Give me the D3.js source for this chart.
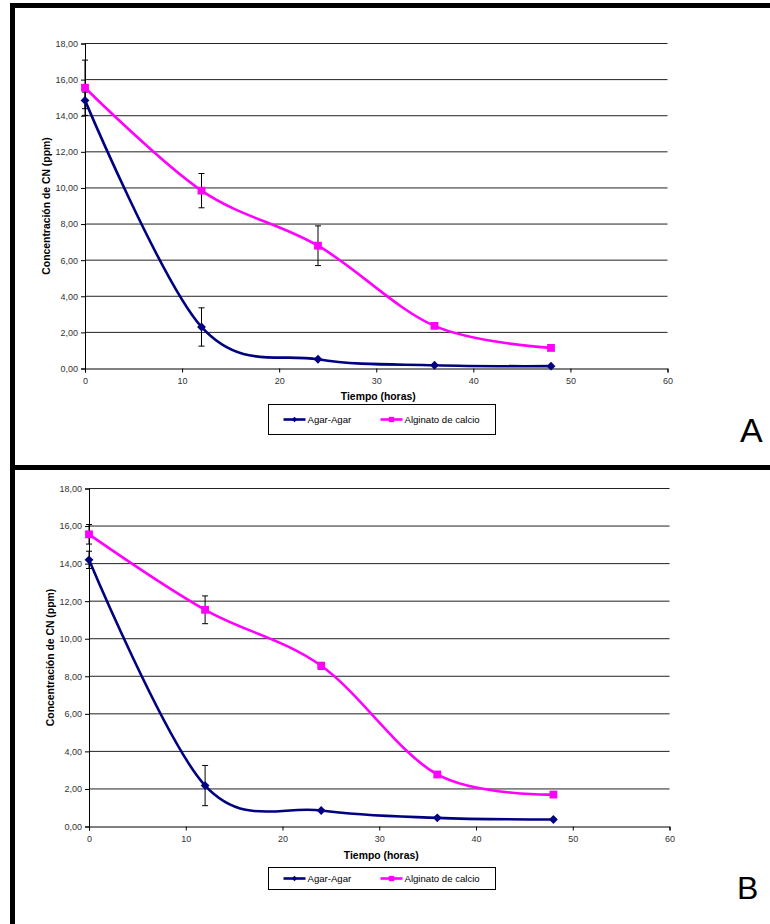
<!DOCTYPE html>
<html>
<head>
<meta charset="utf-8">
<script src="https://cdn.jsdelivr.net/npm/d3@7"></script>
<style>
  html, body { margin: 0; padding: 0; background: #fff; }
  svg { display: block; }
  text { font-family: "Liberation Sans", Arial, sans-serif; }
</style>
</head>
<body>
<svg id="chart" width="770" height="924"></svg>
<script>
// Sampling times (hours)
const tiempo = [0, 12, 24, 36, 48];

// Panel A: CN concentration (ppm) and standard deviations
const agarA = [14.85, 2.30, 0.51, 0.18, 0.13];
const agarErrA = [0.46, 1.06, 0, 0, 0];
const alginatoA = [15.55, 9.85, 6.80, 2.36, 1.14];
const alginatoErrA = [1.53, 0.95, 1.10, 0, 0];

// Panel B
const agarB = [14.20, 2.18, 0.85, 0.46, 0.37];
const agarErrB = [0.46, 1.07, 0, 0, 0];
const alginatoB = [15.56, 11.54, 8.56, 2.77, 1.70];
const alginatoErrB = [0.52, 0.74, 0.18, 0, 0];

// Axis ticks and labels
const xTicks = [0, 10, 20, 30, 40, 50, 60];
const yTicks = [0, 2, 4, 6, 8, 10, 12, 14, 16, 18];
const seriesNames = ["Agar-Agar", "Alginato de calcio"];
const seriesColors = ["#000080", "#FF00FF"];
const panelLabels = ["A", "B"];

const svg = d3.select("#chart");
const fmt = v => d3.format(".2f")(v).replace(".", ",");

// Outer frame of the figure
const frame = svg.append("g").attr("fill", "#000");
frame.append("rect").attr("x", 10).attr("y", 3).attr("width", 760).attr("height", 5);
frame.append("rect").attr("x", 10).attr("y", 3).attr("width", 5).attr("height", 921);
frame.append("rect").attr("x", 10).attr("y", 465).attr("width", 760).attr("height", 5);

function drawPanel(cfg) {
  const x = d3.scaleLinear().domain([0, 60]).range([cfg.x0, cfg.x1]);
  const y = d3.scaleLinear().domain([0, 18]).range([cfg.y0, cfg.y1]);
  const g = svg.append("g");

  // horizontal gridlines
  g.append("g").selectAll("line").data(yTicks.filter(d => d > 0)).join("line")
    .attr("x1", cfg.x0).attr("x2", cfg.x1)
    .attr("y1", d => y(d)).attr("y2", d => y(d))
    .attr("stroke", "#222").attr("stroke-width", 1);

  // y axis
  const ya = g.append("g").attr("transform", `translate(${cfg.x0},0)`)
    .call(d3.axisLeft(y).tickValues(yTicks).tickFormat(fmt).tickSizeOuter(0).tickSize(4).tickPadding(3));
  ya.select(".domain").attr("stroke", "#000");
  ya.selectAll("text").attr("font-size", 9).attr("fill", "#333")
    .attr("font-family", "'Liberation Sans', Arial, sans-serif");

  // x axis
  const xa = g.append("g").attr("transform", `translate(0,${cfg.y0})`)
    .call(d3.axisBottom(x).tickValues(xTicks).tickFormat(d3.format("d")).tickSizeOuter(0).tickSize(4).tickPadding(5));
  xa.select(".domain").attr("stroke", "#000");
  xa.selectAll("text").attr("font-size", 9).attr("fill", "#333")
    .attr("font-family", "'Liberation Sans', Arial, sans-serif");

  // axis titles
  g.append("text")
    .attr("transform", `translate(${cfg.yTitleX},${(cfg.y0 + cfg.y1) / 2}) rotate(-90)`)
    .attr("text-anchor", "middle").attr("font-size", 10.4).attr("font-weight", "bold")
    .text("Concentración de CN (ppm)");
  g.append("text")
    .attr("x", (cfg.x0 + cfg.x1) / 2 + 2).attr("y", cfg.y0 + cfg.xTitleDy)
    .attr("text-anchor", "middle").attr("font-size", 10.4).attr("font-weight", "bold")
    .text("Tiempo (horas)");

  const series = [
    { vals: cfg.agar, err: cfg.agarErr, color: seriesColors[0], marker: "diamond" },
    { vals: cfg.alg, err: cfg.algErr, color: seriesColors[1], marker: "square" }
  ];

  const line = d3.line().x(d => x(d[0])).y(d => y(d[1])).curve(d3.curveCatmullRom.alpha(0));

  // error bars
  series.forEach(s => {
    const eb = g.append("g").attr("stroke", "#000").attr("stroke-width", 1);
    tiempo.forEach((t, i) => {
      if (!s.err[i]) return;
      const cx = x(t), hi = y(s.vals[i] + s.err[i]), lo = y(s.vals[i] - s.err[i]);
      eb.append("line").attr("x1", cx).attr("x2", cx).attr("y1", hi).attr("y2", lo);
      eb.append("line").attr("x1", cx - 3).attr("x2", cx + 3).attr("y1", hi).attr("y2", hi);
      eb.append("line").attr("x1", cx - 3).attr("x2", cx + 3).attr("y1", lo).attr("y2", lo);
    });
  });

  // smoothed lines and markers
  series.forEach(s => {
    const pts = tiempo.map((t, i) => [t, s.vals[i]]);
    g.append("path").datum(pts).attr("d", line)
      .attr("fill", "none").attr("stroke", s.color).attr("stroke-width", 2.6);
    const sym = s.marker === "diamond"
      ? d3.symbol().type(d3.symbolDiamond2).size(50)
      : d3.symbol().type(d3.symbolSquare2).size(78);
    g.append("g").selectAll("path").data(pts).join("path")
      .attr("transform", d => `translate(${x(d[0])},${y(d[1])})`)
      .attr("d", sym).attr("fill", s.color);
  });

  // legend
  const lg = g.append("g");
  lg.append("rect").attr("x", cfg.legX).attr("y", cfg.legY)
    .attr("width", 227).attr("height", cfg.legH)
    .attr("fill", "#fff").attr("stroke", "#000").attr("stroke-width", 1);
  const ly = cfg.legY + cfg.legH / 2;
  const items = [
    { x: cfg.legX + 15, name: seriesNames[0], color: seriesColors[0], marker: "diamond" },
    { x: cfg.legX + 112, name: seriesNames[1], color: seriesColors[1], marker: "square" }
  ];
  items.forEach(it => {
    lg.append("line").attr("x1", it.x).attr("x2", it.x + 22).attr("y1", ly).attr("y2", ly)
      .attr("stroke", it.color).attr("stroke-width", 2.6);
    const sym = it.marker === "diamond"
      ? d3.symbol().type(d3.symbolDiamond2).size(20)
      : d3.symbol().type(d3.symbolSquare2).size(36);
    lg.append("path").attr("transform", `translate(${it.x + 11},${ly})`).attr("d", sym).attr("fill", it.color);
    lg.append("text").attr("x", it.x + 24).attr("y", ly + 3.5)
      .attr("font-size", 9.6).text(it.name);
  });

  // panel label
  g.append("text").attr("x", cfg.labX).attr("y", cfg.labY)
    .attr("font-size", cfg.labSize).text(cfg.label);
}

drawPanel({
  x0: 85, x1: 667.5, y0: 368.5, y1: 43.5,
  agar: agarA, agarErr: agarErrA, alg: alginatoA, algErr: alginatoErrA,
  yTitleX: 50, xTitleDy: 31, legX: 268.5, legY: 404.5, legH: 30,
  label: panelLabels[0], labX: 740, labY: 442, labSize: 34
});

drawPanel({
  x0: 89, x1: 669.5, y0: 826.5, y1: 488.5,
  agar: agarB, agarErr: agarErrB, alg: alginatoB, algErr: alginatoErrB,
  yTitleX: 54, xTitleDy: 32, legX: 268.5, legY: 867.5, legH: 22,
  label: panelLabels[1], labX: 737, labY: 899, labSize: 32
});
</script>
</body>
</html>
